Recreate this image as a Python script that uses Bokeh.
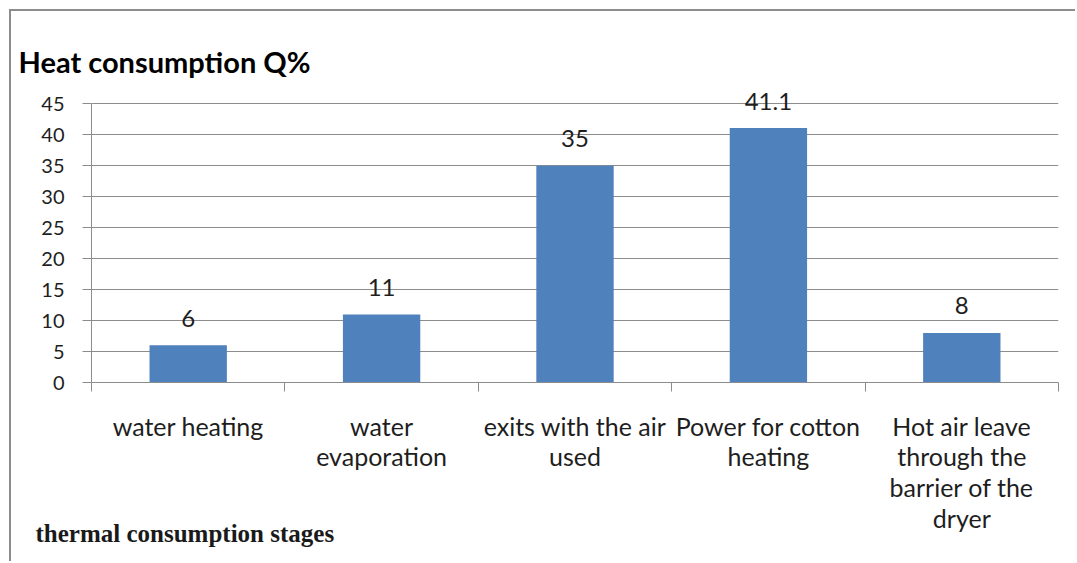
import numpy as np
from bokeh.plotting import figure
from bokeh.models import Range1d, FixedTicker, Title, Label, ColumnDataSource
from bokeh.embed import file_html
from bokeh.resources import INLINE
from bokeh.core.properties import value

categories = ["water heating", "water evaporation", "exits with the air used",
              "Power for cotton heating", "Hot air leave through the barrier of the dryer"]
category_labels = ["water heating", "water\nevaporation", "exits with the air\nused",
                   "Power for cotton\nheating", "Hot air leave\nthrough the\nbarrier of the\ndryer"]
values = [6, 11, 35, 41.1, 8]
y_ticks = [0, 5, 10, 15, 20, 25, 30, 35, 40, 45]
title_text = "Heat consumption Q%"
xlabel_text = "thermal consumption stages"

FONT = "Lato"
BAR = "#4F81BD"
GRID = "#8C8C8C"
TXT = "#1e1e1e"

n = len(categories)
centers = np.arange(n) + 0.5
src = ColumnDataSource(dict(x=centers, top=values, lab=[f"{v:g}" for v in values]))

p = figure(width=1066, height=552, output_backend="svg", toolbar_location=None,
           x_range=Range1d(0, n), y_range=Range1d(0, 47.5),
           min_border_left=80, min_border_right=19, min_border_top=77, min_border_bottom=179)
p.styles = {"margin-left": "9px", "margin-top": "9px",
            "border-left": "2px solid #8C8C8C", "border-top": "2px solid #8C8C8C"}
p.outline_line_color = None
p.background_fill_color = "white"
p.border_fill_color = "white"

p.vbar(x="x", top="top", width=0.4, source=src, fill_color=BAR, line_color=None)
p.text(x="x", y="top", text="lab", source=src, text_align="center", text_baseline="alphabetic",
       y_offset=-27, text_font=value(FONT), text_font_size="24px", text_color=TXT)

# y axis
p.yaxis.ticker = FixedTicker(ticks=y_ticks)
p.yaxis.bounds = (min(y_ticks), max(y_ticks))
p.yaxis.minor_tick_line_color = None
p.yaxis.major_tick_in = 0
p.yaxis.major_tick_out = 9
p.yaxis.major_tick_line_color = GRID
p.yaxis.axis_line_color = GRID
p.yaxis.major_label_standoff = 18
p.yaxis.major_label_text_font = FONT
p.yaxis.major_label_text_font_size = "20px"
p.yaxis.major_label_text_color = TXT
p.ygrid.ticker = FixedTicker(ticks=y_ticks)
p.ygrid.grid_line_color = GRID
p.xgrid.grid_line_color = None

# x axis: labels at category centres, ticks at category boundaries
p.xaxis.ticker = FixedTicker(ticks=list(centers), minor_ticks=list(range(n + 1)))
p.xaxis.major_label_overrides = {float(c): lab for c, lab in zip(centers, category_labels)}
p.xaxis.major_tick_line_color = None
p.xaxis.major_tick_in = 0
p.xaxis.major_tick_out = 0
p.xaxis.minor_tick_in = 0
p.xaxis.minor_tick_out = 9
p.xaxis.minor_tick_line_color = GRID
p.xaxis.axis_line_color = GRID
p.xaxis.major_label_standoff = 19
p.xaxis.major_label_text_font = FONT
p.xaxis.major_label_text_font_size = "25px"
p.xaxis.major_label_text_color = TXT
p.xaxis.major_label_text_line_height = 1.03

p.add_layout(Title(text=title_text, align="left", offset=-73, standoff=20,
                   text_font=FONT, text_font_size="29px", text_font_style="bold",
                   text_color="#000000"), "above")
p.add_layout(Label(x=-56, y=30, x_units="screen", y_units="screen", text=xlabel_text,
                   text_font="Liberation Serif", text_font_size="25px", text_font_style="bold",
                   text_baseline="middle", text_color="#1a1a1a"), "below")

open("out.html", "w").write(file_html(p, INLINE))
